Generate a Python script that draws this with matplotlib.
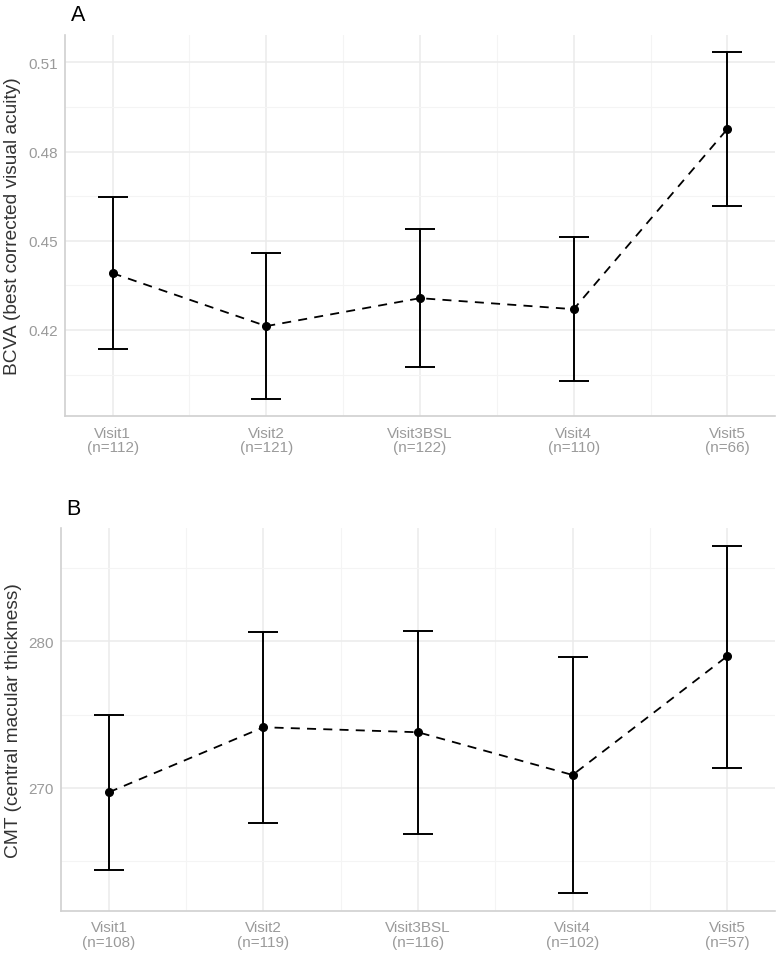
import numpy as np
import matplotlib
matplotlib.use("Agg")
import matplotlib.pyplot as plt

plt.rcParams['font.family'] = ['Liberation Sans', 'DejaVu Sans']

visits = ["Visit1", "Visit2", "Visit3BSL", "Visit4", "Visit5"]

# panel A: BCVA
n_bcva = [112, 121, 122, 110, 66]
bcva_mean = [0.4391, 0.4213, 0.4307, 0.4270, 0.4876]
bcva_low = [0.4136, 0.3969, 0.4076, 0.4028, 0.4617]
bcva_high = [0.4646, 0.4460, 0.4541, 0.4512, 0.5134]

# panel B: CMT
n_cmt = [108, 119, 116, 102, 57]
cmt_mean = [269.69, 274.13, 273.79, 270.87, 278.98]
cmt_low = [264.40, 267.57, 266.84, 262.78, 271.37]
cmt_high = [274.95, 280.66, 280.71, 278.93, 286.54]

# ticks
bcva_major = [0.42, 0.45, 0.48, 0.51]
bcva_minor = [0.405, 0.435, 0.465, 0.495]
cmt_major = [270, 280]
cmt_minor = [265, 275, 285]


def panel(ax, mean, low, high, ns, ylabel, major, minor, fmt, tag):
    x = np.arange(len(visits))
    mean = np.array(mean)
    low = np.array(low)
    high = np.array(high)
    ax.errorbar(x, mean, yerr=[mean - low, high - mean], fmt='none',
                ecolor='black', elinewidth=1.4, capsize=10.5, capthick=1.4,
                zorder=3)
    ax.plot(x, mean, color='black', linestyle=(0, (5, 4)), linewidth=1.3,
            zorder=3)
    ax.plot(x, mean, 'o', color='black', markersize=5.5, zorder=4)

    lo, hi = low.min(), high.max()
    pad = (hi - lo) * 0.05
    ax.set_ylim(lo - pad, hi + pad)
    ax.set_xlim(-0.31, len(visits) - 1 + 0.31)

    ax.set_yticks(major)
    ax.set_yticklabels([fmt.format(v) for v in major])
    ax.set_yticks(minor, minor=True)
    ax.set_xticks(x)
    ax.set_xticklabels([f"{v}\n(n={n})" for v, n in zip(visits, ns)],
                       linespacing=1.05)
    ax.set_xticks(x[:-1] + 0.5, minor=True)

    ax.grid(True, which='major', color='#ebebeb', linewidth=1.1)
    ax.grid(True, which='minor', color='#f4f4f4', linewidth=0.8)
    ax.set_axisbelow(True)
    ax.tick_params(which='both', length=0, labelsize=11, labelcolor='#9a9a9a')
    ax.tick_params(axis='x', pad=7)
    ax.tick_params(axis='y', pad=5)
    for s in ['top', 'right']:
        ax.spines[s].set_visible(False)
    for s in ['left', 'bottom']:
        ax.spines[s].set_color('#d0d0d0')
        ax.spines[s].set_linewidth(1.2)
    ax.set_ylabel(ylabel, fontsize=13.8, color='#333333', labelpad=5)
    ax.text(0.008, 1.025, tag, transform=ax.transAxes, fontsize=15.5,
            color='black', ha='left', va='bottom')


fig = plt.figure(figsize=(7.8, 9.54), dpi=100)
ax1 = fig.add_axes([0.0833, 0.5629, 0.9103, 0.3994])
ax2 = fig.add_axes([0.0782, 0.0443, 0.9154, 0.4009])

panel(ax1, bcva_mean, bcva_low, bcva_high, n_bcva,
      "BCVA (best corrected visual acuity)", bcva_major, bcva_minor,
      "{:.2f}", "A")
panel(ax2, cmt_mean, cmt_low, cmt_high, n_cmt,
      "CMT (central macular thickness)", cmt_major, cmt_minor,
      "{:.0f}", "B")

fig.savefig("out.png", dpi=100, facecolor='white')
